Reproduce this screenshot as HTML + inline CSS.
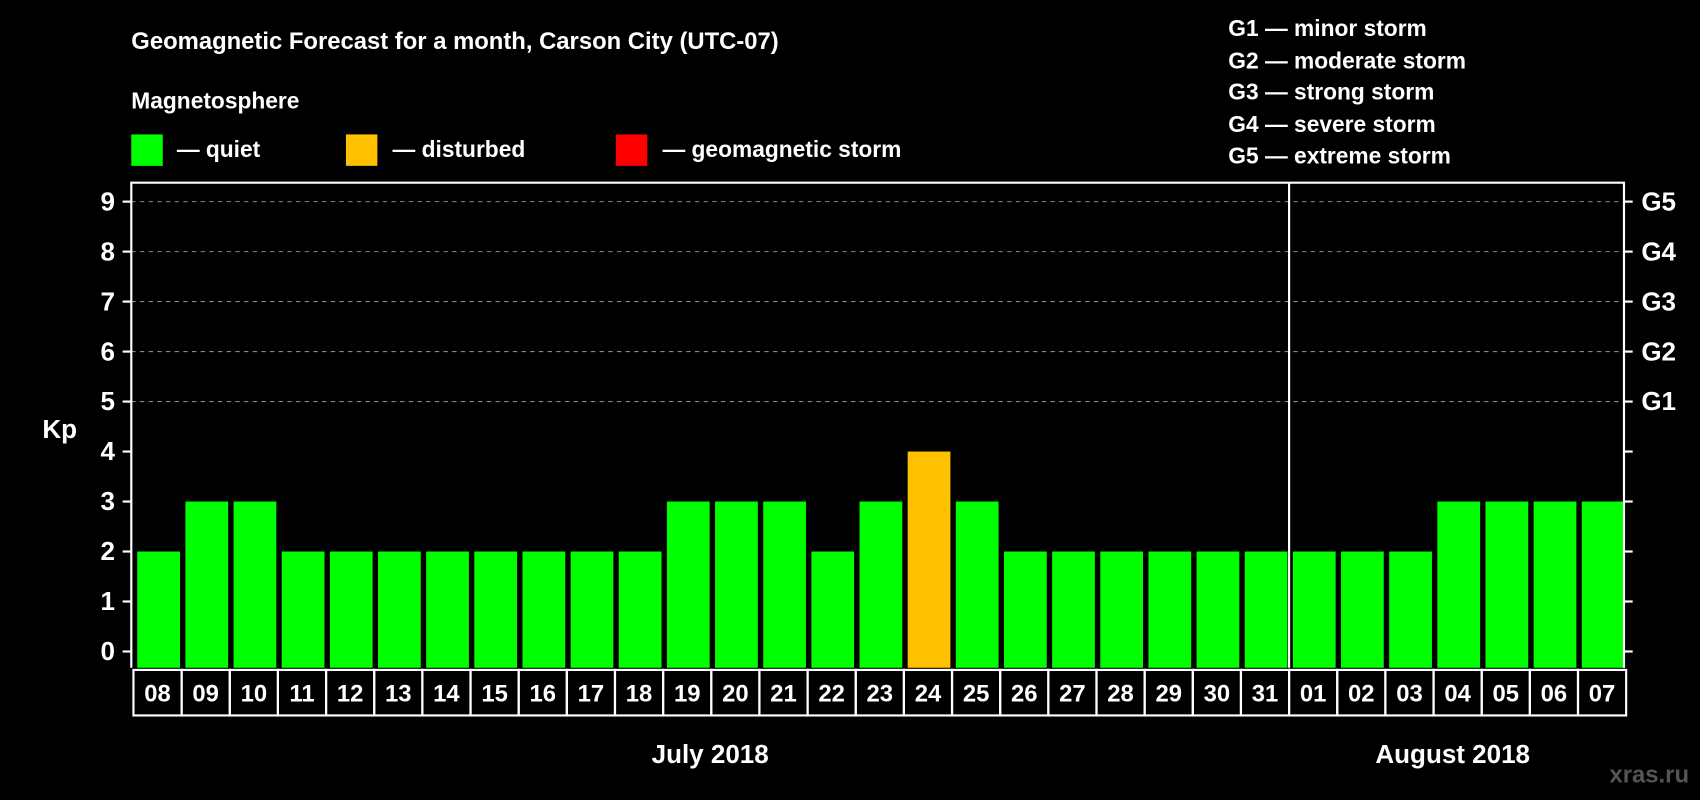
<!DOCTYPE html>
<html><head><meta charset="utf-8"><style>
html,body{margin:0;padding:0;background:#000;width:1700px;height:800px;overflow:hidden}
svg text{font-family:"Liberation Sans",Arial,sans-serif;font-weight:bold;fill:#fff}
</style></head><body>
<svg id="chart" width="1700" height="800" viewBox="0 0 1568 738" xmlns="http://www.w3.org/2000/svg">
<rect x="0" y="0" width="1568" height="738" fill="#000"/>
<text x="121" y="45" font-size="22">Geomagnetic Forecast for a month, Carson City (UTC-07)</text>
<text x="121" y="100" font-size="21">Magnetosphere</text>
<rect x="121" y="124" width="29" height="29" fill="#00ff00"/>
<text x="163" y="145" font-size="21">— quiet</text>
<rect x="319" y="124" width="29" height="29" fill="#ffc000"/>
<text x="362" y="145" font-size="21">— disturbed</text>
<rect x="568" y="124" width="29" height="29" fill="#ff0000"/>
<text x="611" y="145" font-size="21">— geomagnetic storm</text>
<g font-size="21">
<text x="1133" y="33">G1 — minor storm</text>
<text x="1133" y="63">G2 — moderate storm</text>
<text x="1133" y="92">G3 — strong storm</text>
<text x="1133" y="122">G4 — severe storm</text>
<text x="1133" y="151">G5 — extreme storm</text>
</g>
<text x="39" y="404" font-size="24">Kp</text>
<text x="655" y="704" font-size="24" text-anchor="middle">July 2018</text>
<text x="1340" y="704" font-size="24" text-anchor="middle">August 2018</text>
<text x="1558" y="722" font-size="22" text-anchor="end" style="fill:#555">xras.ru</text>
<g id="plot"></g>
</svg>
<script>
const days = ["08","09","10","11","12","13","14","15","16","17","18","19","20","21","22","23","24","25","26","27","28","29","30","31","01","02","03","04","05","06","07"];
const kpValues = [2,3,3,2,2,2,2,2,2,2,2,3,3,3,2,3,4,3,2,2,2,2,2,2,2,2,2,3,3,3,3];
const yTicks = [0,1,2,3,4,5,6,7,8,9];
const gLabels = ["","","","","","G1","G2","G3","G4","G5"];
const monthBreakIndex = 24;

const NS = "http://www.w3.org/2000/svg";
const plot = document.getElementById("plot");
const L = 121, R = 1498, T = 168.5, B = 616;
const n = days.length, step = (R - L) / n;
const yScale = v => 601 - v * (601 - 186) / 9;
const xScale = i => L + i * step;
function mk(tag, attrs, parent) {
  const e = document.createElementNS(NS, tag);
  for (const k in attrs) e.setAttribute(k, attrs[k]);
  (parent || plot).appendChild(e);
  return e;
}
// gridlines
yTicks.forEach(v => {
  if (v >= 5) {
    const g = mk("line", {x1: L, x2: R, y1: yScale(v), y2: yScale(v), stroke: "#888", "stroke-width": 1, "stroke-dasharray": "4,4"});
    
    
  }
  const tl = mk("line", {x1: L - 8, x2: L, y1: yScale(v), y2: yScale(v), stroke: "#fff", "stroke-width": 2});
  
  
  const tr = mk("line", {x1: R, x2: R + 8, y1: yScale(v), y2: yScale(v), stroke: "#fff", "stroke-width": 2});
  
  
  const t = mk("text", {x: 106, y: yScale(v) + 8, "font-size": 24, "text-anchor": "end"});
  t.textContent = v;
  
  
  if (gLabels[v]) {
    const g = mk("text", {x: 1514, y: yScale(v) + 8, "font-size": 24});
    g.textContent = gLabels[v];
    
    
  }
});
// bars
kpValues.forEach((v, i) => {
  const color = v >= 5 ? "#ff0000" : (v >= 4 ? "#ffc000" : "#00ff00");
  const top = yScale(v);
  const b = mk("rect", {x: xScale(i) + 5.5, y: top, width: step - 5, height: B - top, fill: color});
  
  
  const c = mk("rect", {x: xScale(i) + 2, y: 618, width: step, height: 42, fill: "none", stroke: "#fff", "stroke-width": 2});
  
  
  const t = mk("text", {x: xScale(i) + 2 + step / 2, y: 647, "font-size": 22, "text-anchor": "middle"});
  t.textContent = days[i];
  
  
});
// frame
const fr = mk("path", {d: `M${L},${B} L${L},${T} L${R},${T} L${R},${B}`, fill: "none", stroke: "#fff", "stroke-width": 2});


const sep = mk("line", {x1: xScale(monthBreakIndex) + 2, x2: xScale(monthBreakIndex) + 2, y1: T, y2: B, stroke: "#fff", "stroke-width": 2});


</script>
</body></html>
